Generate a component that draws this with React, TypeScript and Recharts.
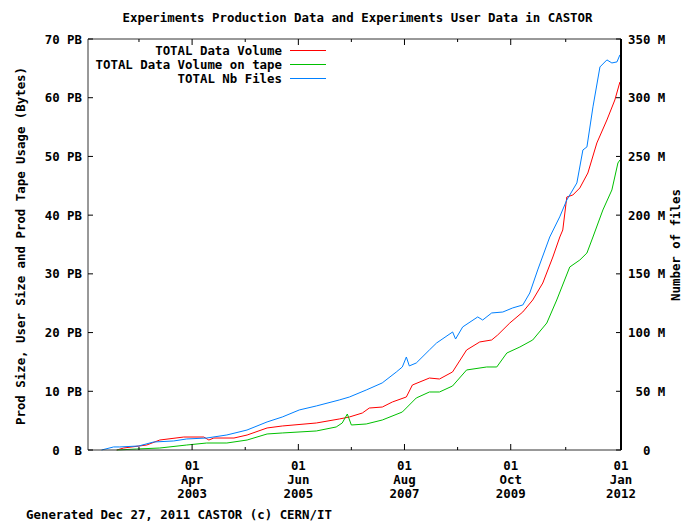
import React from 'react';
import { LineChart, Line, XAxis, YAxis } from 'recharts';

// TOTAL Data Volume (PB)
const volumeDates = [
  '2001-09-16', '2001-11-07', '2002-04-28', '2002-08-03', '2003-01-29', '2003-06-27', '2003-08-04',
  '2003-09-10', '2004-02-07', '2004-05-15', '2004-10-11', '2005-02-01', '2005-10-13', '2006-04-02',
  '2006-06-16', '2006-09-21', '2006-11-12', '2007-02-17', '2007-05-03', '2007-08-15', '2007-09-29',
  '2008-02-03', '2008-04-18', '2008-07-24', '2008-11-06', '2009-02-12', '2009-05-12', '2009-06-26',
  '2009-09-24', '2009-12-30', '2010-03-14', '2010-05-28', '2010-08-11', '2010-10-02', '2010-10-24',
  '2010-11-23', '2011-01-07', '2011-02-28', '2011-04-29', '2011-07-05', '2011-09-18', '2011-11-16',
  '2011-12-24',
];
const volumeValues = [
  0, 0.34, 0.85, 1.7, 2.21, 2.21, 1.7,
  2.04, 2.04, 2.55, 3.75, 4.09, 4.6, 5.28,
  5.62, 6.3, 7.15, 7.32, 8.18, 9.03, 11.07,
  12.26, 12.09, 13.29, 17.03, 18.4, 18.74, 19.59,
  21.63, 23.51, 25.55, 28.44, 32.87, 36.28, 37.47,
  43.09, 43.43, 44.63, 47.18, 52.29, 56.21, 59.61,
  62.68,
];

// TOTAL Data Volume on tape (PB)
const tapeDates = [
  '2001-09-16', '2002-02-12', '2002-08-03', '2003-02-20', '2003-07-19', '2003-12-16', '2004-05-15',
  '2004-10-11', '2005-02-01', '2005-10-13', '2006-03-10', '2006-04-24', '2006-06-01', '2006-07-01',
  '2006-10-20', '2007-02-17', '2007-07-16', '2007-10-28', '2008-02-03', '2008-04-18', '2008-07-24',
  '2008-11-06', '2009-04-05', '2009-06-19', '2009-09-02', '2009-12-08', '2010-03-14', '2010-06-27',
  '2010-09-09', '2010-12-15', '2011-02-28', '2011-04-22', '2011-06-06', '2011-08-19', '2011-10-25',
  '2011-12-09', '2011-12-24',
];
const tapeValues = [
  0, 0.17, 0.34, 0.85, 1.19, 1.19, 1.7,
  2.73, 2.9, 3.24, 3.92, 4.6, 6.13, 4.26,
  4.43, 5.11, 6.47, 8.86, 9.88, 9.88, 10.9,
  13.63, 14.14, 14.14, 16.52, 17.54, 18.74, 21.63,
  25.55, 31.17, 32.36, 33.55, 36.28, 40.88, 44.29,
  48.88, 49.4,
];

// TOTAL Nb Files (millions)
const filesDates = [
  '2001-05-26', '2001-08-24', '2001-10-08', '2002-02-26', '2002-06-18', '2002-11-15', '2003-02-20',
  '2003-07-19', '2003-12-16', '2004-05-14', '2004-10-11', '2005-02-01', '2005-06-08', '2005-10-13',
  '2006-04-02', '2006-06-16', '2006-10-20', '2007-02-16', '2007-06-01', '2007-07-16', '2007-08-15',
  '2007-09-06', '2007-10-28', '2008-02-03', '2008-03-27', '2008-07-25', '2008-08-16', '2008-10-08',
  '2009-01-28', '2009-03-06', '2009-05-12', '2009-08-03', '2009-10-16', '2009-12-30', '2010-02-20',
  '2010-04-20', '2010-07-19', '2010-10-01', '2010-11-23', '2011-02-06', '2011-03-23', '2011-04-22',
  '2011-06-06', '2011-07-28', '2011-09-18', '2011-10-25', '2011-12-02', '2011-12-24',
];
const filesValues = [
  0, 2.6, 2.6, 3.4, 6.8, 7.7, 9.4,
  10.2, 12.8, 17.0, 23.9, 28.1, 34.1, 37.5,
  42.6, 45.1, 51.1, 57.1, 66.4, 70.7, 79.2,
  71.6, 74.1, 85.2, 91.1, 100.5, 94.5, 104.8,
  113.3, 110.7, 116.7, 117.5, 121.0, 123.5, 133.7,
  153.3, 181.4, 198.5, 212.9, 227.4, 255.5, 258.1,
  292.2, 326.2, 332.2, 329.6, 330.5, 336.5,
];

const xStart = '2001-02-14';
const xEnd = '2012-01-01';
const majorTicks = ['2003-04-01', '2005-06-01', '2007-08-01', '2009-10-01', '2012-01-01'];
const majorLabels = [
  ['01', 'Apr', '2003'],
  ['01', 'Jun', '2005'],
  ['01', 'Aug', '2007'],
  ['01', 'Oct', '2009'],
  ['01', 'Jan', '2012'],
];
const minorTicks = ['2002-03-01', '2004-05-01', '2006-07-01', '2008-08-31', '2010-11-15'];

const leftTicks = [0, 10, 20, 30, 40, 50, 60, 70];
const leftTickLabels = ['0  B', '10 PB', '20 PB', '30 PB', '40 PB', '50 PB', '60 PB', '70 PB'];
const rightTicks = [0, 50, 100, 150, 200, 250, 300, 350];
const rightTickLabels = ['  0', ' 50 M', '100 M', '150 M', '200 M', '250 M', '300 M', '350 M'];

const toTime = (d: string) => Date.parse(d + 'T00:00:00Z');
const build = (dates: string[], values: number[]) => dates.map((d, i) => ({ t: toTime(d), v: values[i] }));

const volumeData = build(volumeDates, volumeValues);
const tapeData = build(tapeDates, tapeValues);
const filesData = build(filesDates, filesValues);

const majorTimes = majorTicks.map(toTime);
const allXTicks = [...majorTimes, ...minorTicks.map(toTime)].sort((a, b) => a - b);

const FONT = '"DejaVu Sans Mono", monospace';
const FS = 12.4;
const RED = '#ff0000';
const GREEN = '#00c000';
const BLUE = '#0080ff';

const BottomTick = (props: any) => {
  const { x, y, payload } = props;
  const idx = majorTimes.indexOf(payload.value);
  const len = idx >= 0 ? 6 : 3;
  return (
    <g>
      <line x1={x} x2={x} y1={y} y2={y - len} stroke="#000" />
      {idx >= 0 && (
        <text x={x} y={y} textAnchor="middle" fontFamily={FONT} fontWeight="bold" fontSize={FS} fill="#000">
          {majorLabels[idx].map((s, i) => (
            <tspan key={i} x={x} y={y + 19.5 + i * 14}>{s}</tspan>
          ))}
        </text>
      )}
    </g>
  );
};

const TopTick = (props: any) => {
  const { x, y, payload } = props;
  const len = majorTimes.indexOf(payload.value) >= 0 ? 6 : 3;
  return <line x1={x} x2={x} y1={y} y2={y + len} stroke="#000" />;
};

const LeftTick = (props: any) => {
  const { x, y, payload } = props;
  const label = leftTickLabels[leftTicks.indexOf(payload.value)];
  return (
    <g>
      <line x1={x} x2={x + 5} y1={y} y2={y} stroke="#000" />
      <text x={x - 6} y={y + 4.5} textAnchor="end" fontFamily={FONT} fontWeight="bold" fontSize={FS} fill="#000" style={{ whiteSpace: 'pre' }}>
        {label}
      </text>
    </g>
  );
};

const RightTick = (props: any) => {
  const { x, y, payload } = props;
  const label = rightTickLabels[rightTicks.indexOf(payload.value)];
  return (
    <g>
      <line x1={x} x2={x - 5} y1={y} y2={y} stroke="#000" />
      <text x={x + 7} y={y + 4.5} textAnchor="start" fontFamily={FONT} fontWeight="bold" fontSize={FS} fill="#000" style={{ whiteSpace: 'pre' }}>
        {label}
      </text>
    </g>
  );
};

const legendItems = [
  { name: 'TOTAL Data Volume', color: RED },
  { name: 'TOTAL Data Volume on tape', color: GREEN },
  { name: 'TOTAL Nb Files', color: BLUE },
];

export default function App() {
  const txt = { fontFamily: FONT, fontWeight: 'bold' as const, fontSize: FS, fill: '#000' };
  return (
    <div style={{ position: 'absolute', left: 0, top: 0, width: 683, height: 521, background: '#fff' }}>
      <LineChart width={683} height={521} margin={{ top: 38, right: 7, bottom: 21, left: 28 }}>
        <XAxis
          xAxisId="bottom"
          dataKey="t"
          type="number"
          domain={[toTime(xStart), toTime(xEnd)]}
          allowDataOverflow
          ticks={allXTicks}
          interval={0}
          height={50}
          tickSize={0}
          tickMargin={0}
          tickLine={false}
          axisLine={{ stroke: '#333' }}
          tick={<BottomTick />}
        />
        <XAxis
          xAxisId="top"
          orientation="top"
          dataKey="t"
          type="number"
          domain={[toTime(xStart), toTime(xEnd)]}
          allowDataOverflow
          ticks={allXTicks}
          interval={0}
          height={1}
          tickSize={0}
          tickMargin={0}
          tickLine={false}
          axisLine={{ stroke: '#333' }}
          tick={<TopTick />}
        />
        <YAxis
          yAxisId="left"
          domain={[0, 70]}
          ticks={leftTicks}
          interval={0}
          width={60}
          tickSize={0}
          tickMargin={0}
          tickLine={false}
          axisLine={{ stroke: '#333' }}
          tick={<LeftTick />}
        />
        <YAxis
          yAxisId="right"
          orientation="right"
          domain={[0, 350]}
          ticks={rightTicks}
          interval={0}
          width={55}
          tickSize={0}
          tickMargin={0}
          tickLine={false}
          axisLine={{ stroke: '#000', strokeWidth: 2 }}
          tick={<RightTick />}
        />
        <Line xAxisId="bottom" yAxisId="left" data={volumeData} dataKey="v" stroke={RED} strokeWidth={1} dot={false} isAnimationActive={false} type="linear" />
        <Line xAxisId="bottom" yAxisId="left" data={tapeData} dataKey="v" stroke={GREEN} strokeWidth={1} dot={false} isAnimationActive={false} type="linear" />
        <Line xAxisId="bottom" yAxisId="right" data={filesData} dataKey="v" stroke={BLUE} strokeWidth={1} dot={false} isAnimationActive={false} type="linear" />
      </LineChart>
      <svg width={683} height={521} style={{ position: 'absolute', left: 0, top: 0, pointerEvents: 'none' }}>
        <text x={357.5} y={22} textAnchor="middle" {...txt}>
          Experiments Production Data and Experiments User Data in CASTOR
        </text>
        {legendItems.map((it, i) => (
          <g key={it.name}>
            <text x={282} y={55 + i * 14} textAnchor="end" {...txt}>{it.name}</text>
            <line x1={290} x2={326} y1={50.5 + i * 14} y2={50.5 + i * 14} stroke={it.color} />
          </g>
        ))}
        <text transform="translate(24.5,246) rotate(-90)" textAnchor="middle" {...txt}>
          Prod Size, User Size and Prod Tape Usage (Bytes)
        </text>
        <text transform="translate(679.5,245) rotate(-90)" textAnchor="middle" {...txt}>
          Number of files
        </text>
        <text x={26} y={518.5} textAnchor="start" {...txt}>
          Generated Dec 27, 2011 CASTOR (c) CERN/IT
        </text>
      </svg>
    </div>
  );
}
